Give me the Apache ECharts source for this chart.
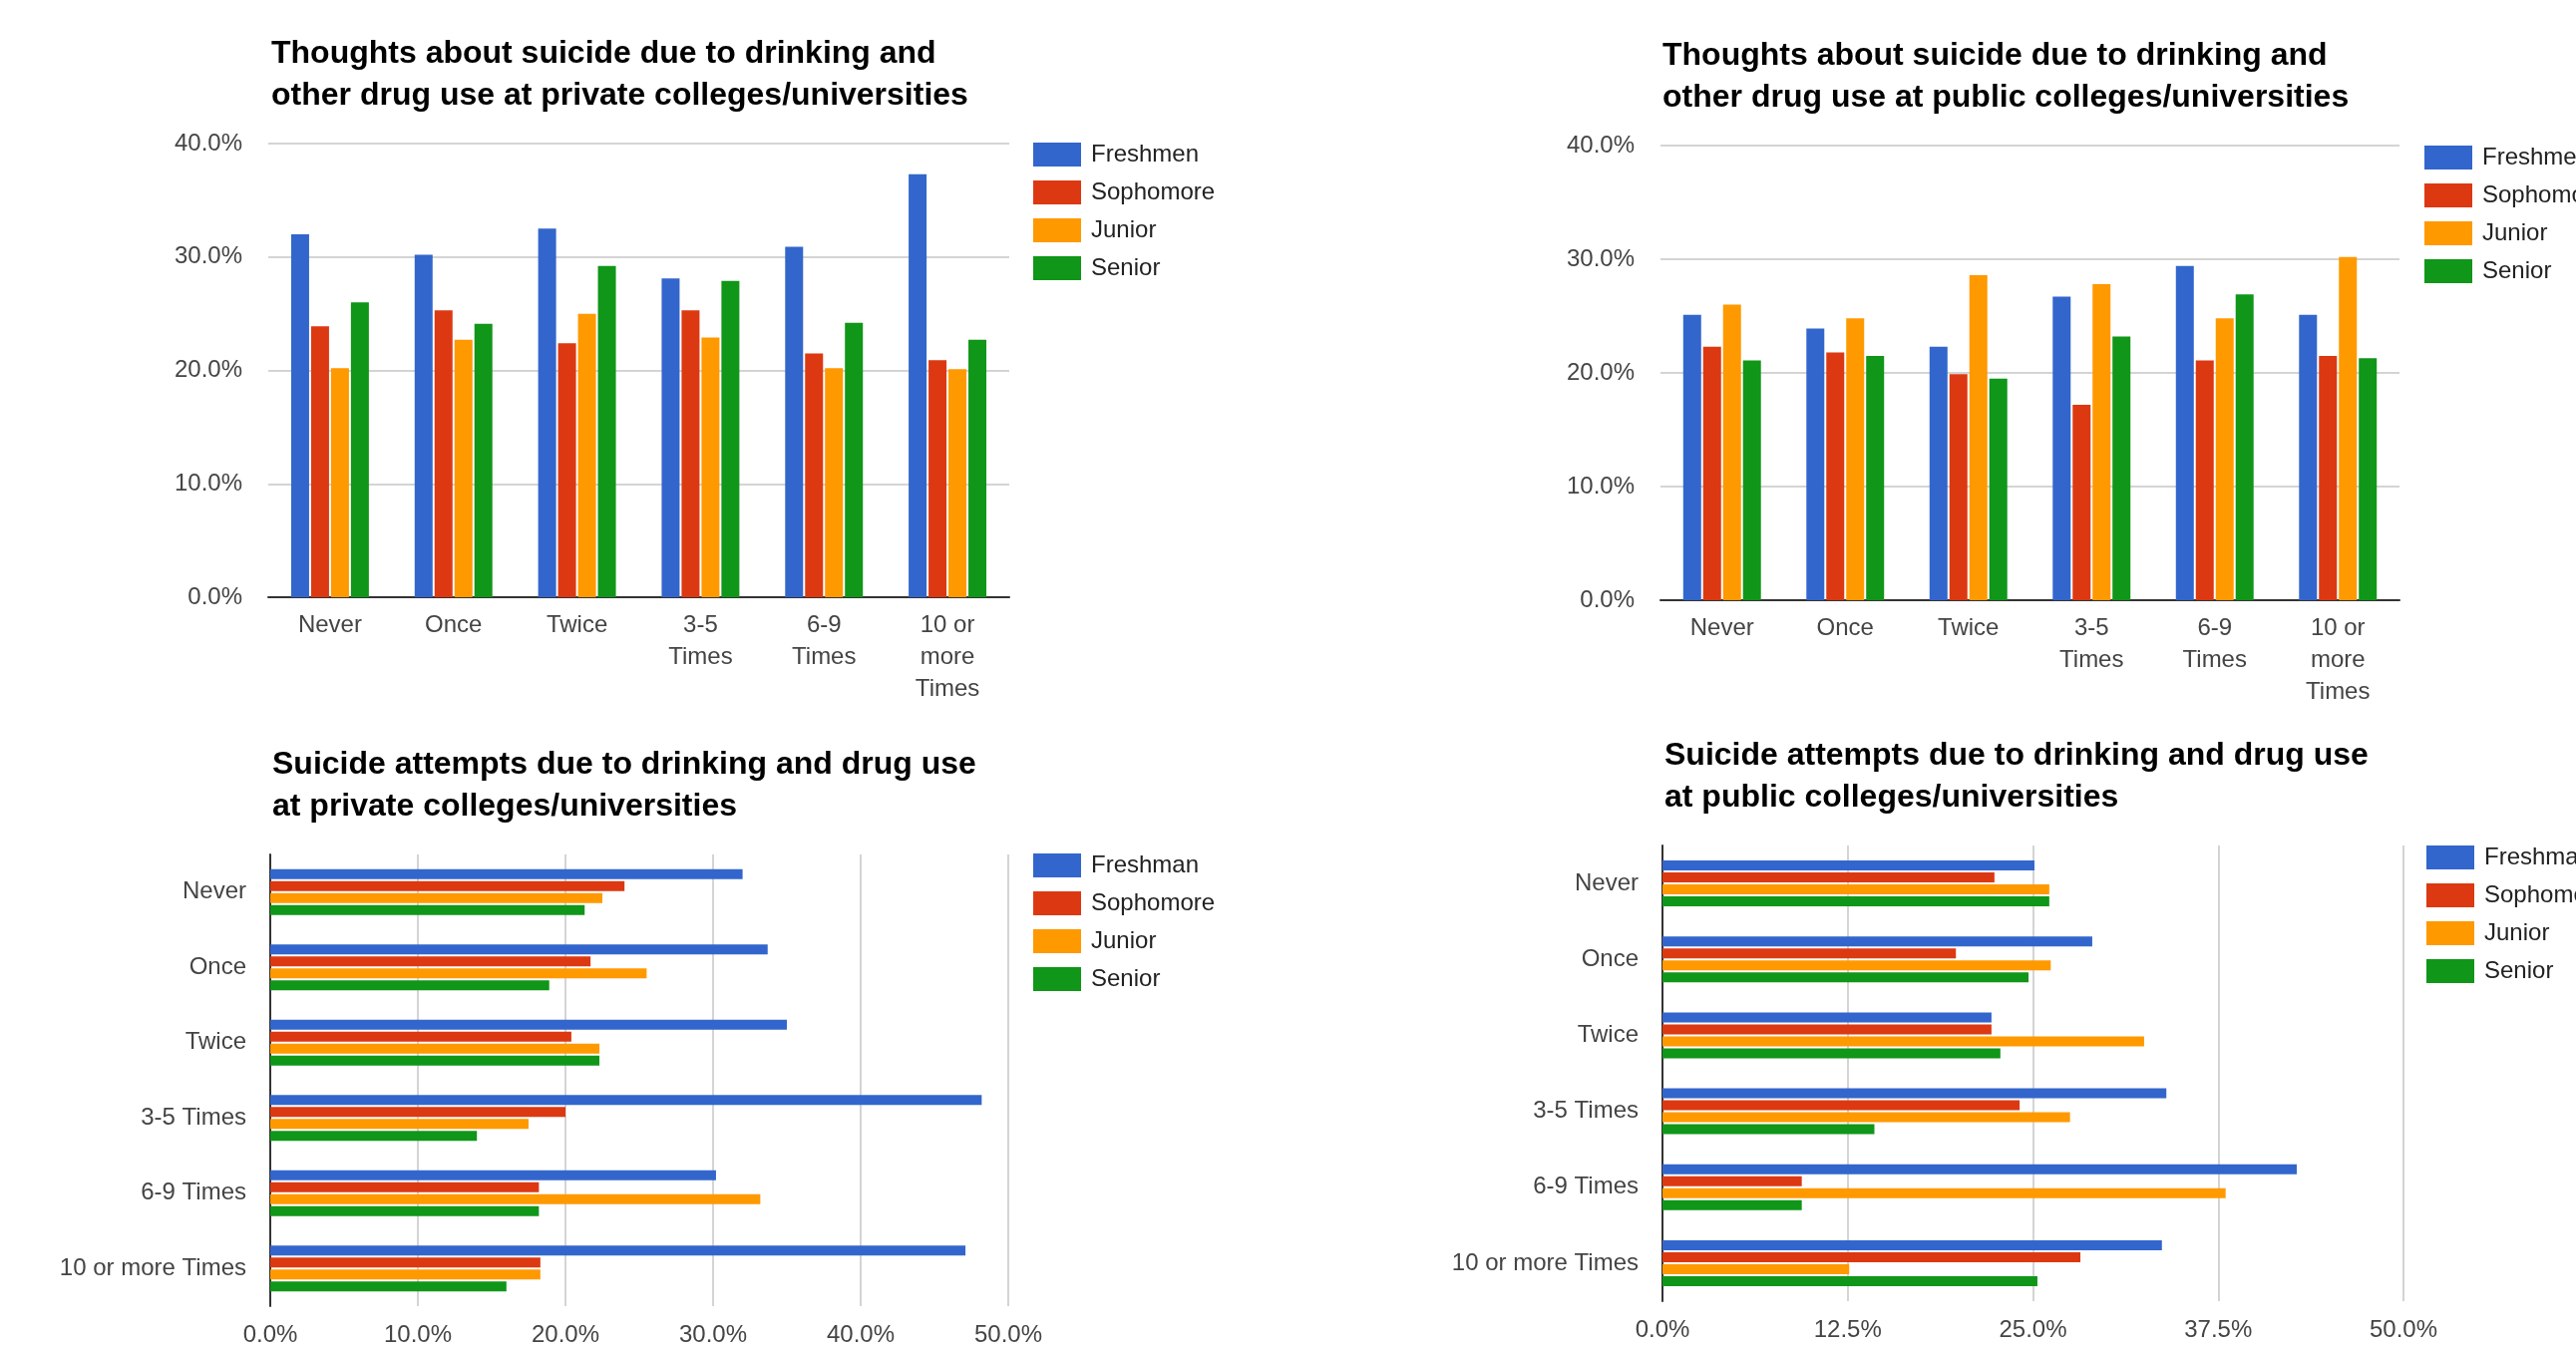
<!DOCTYPE html>
<html>
<head>
<meta charset="utf-8">
<script src="https://cdn.jsdelivr.net/npm/echarts@6/dist/echarts.min.js"></script>
<style>
html,body{margin:0;padding:0;background:#fff;}
#chart{width:2583px;height:1351px;}
</style>
</head>
<body>
<div id="chart"></div>
<script>
// ---- data ----
var categoriesTop = ['Never', 'Once', 'Twice', '3-5\nTimes', '6-9\nTimes', '10 or\nmore\nTimes'];
var categoriesBottom = ['Never', 'Once', 'Twice', '3-5 Times', '6-9 Times', '10 or more Times'];
var seriesNamesTop = ['Freshmen', 'Sophomore', 'Junior', 'Senior'];
var seriesNamesBottom = ['Freshman', 'Sophomore', 'Junior', 'Senior'];

var thoughtsPrivateFreshmen  = [32.0, 30.2, 32.5, 28.1, 30.9, 37.3];
var thoughtsPrivateSophomore = [23.9, 25.3, 22.4, 25.3, 21.5, 20.9];
var thoughtsPrivateJunior    = [20.2, 22.7, 25.0, 22.9, 20.2, 20.1];
var thoughtsPrivateSenior    = [26.0, 24.1, 29.2, 27.9, 24.2, 22.7];

var thoughtsPublicFreshmen  = [25.1, 23.9, 22.3, 26.7, 29.4, 25.1];
var thoughtsPublicSophomore = [22.3, 21.8, 19.9, 17.2, 21.1, 21.5];
var thoughtsPublicJunior    = [26.0, 24.8, 28.6, 27.8, 24.8, 30.2];
var thoughtsPublicSenior    = [21.1, 21.5, 19.5, 23.2, 26.9, 21.3];

var attemptsPrivateFreshman  = [32.0, 33.7, 35.0, 48.2, 30.2, 47.1];
var attemptsPrivateSophomore = [24.0, 21.7, 20.4, 20.0, 18.2, 18.3];
var attemptsPrivateJunior    = [22.5, 25.5, 22.3, 17.5, 33.2, 18.3];
var attemptsPrivateSenior    = [21.3, 18.9, 22.3, 14.0, 18.2, 16.0];

var attemptsPublicFreshman  = [25.1, 29.0, 22.2, 34.0, 42.8, 33.7];
var attemptsPublicSophomore = [22.4, 19.8, 22.2, 24.1, 9.4, 28.2];
var attemptsPublicJunior    = [26.1, 26.2, 32.5, 27.5, 38.0, 12.6];
var attemptsPublicSenior    = [26.1, 24.7, 22.8, 14.3, 9.4, 25.3];

var titles = [
  'Thoughts about suicide due to drinking and\nother drug use at private colleges/universities',
  'Thoughts about suicide due to drinking and\nother drug use at public colleges/universities',
  'Suicide attempts due to drinking and drug use\nat private colleges/universities',
  'Suicide attempts due to drinking and drug use\nat public colleges/universities'
];

// ---- styling ----
var colors = ['#3366cc', '#dc3912', '#ff9900', '#109618'];
var FONT = '"Liberation Sans", Arial, sans-serif';
var pct = function (v) { return v.toFixed(1) + '%'; };

var chart = echarts.init(document.getElementById('chart'), null, {renderer: 'canvas'});

var gridLine = {show: true, lineStyle: {color: '#d4d4d4', width: 2}};
var baseLine = {show: true, lineStyle: {color: '#333', width: 2}};
var labelStyle = {fontFamily: FONT, fontSize: 24, color: '#444'};

function titleCfg(text, left, top) {
  return {text: text, left: left, top: top, padding: 0,
    textStyle: {fontFamily: FONT, fontSize: 32, fontWeight: 'bold', color: '#000', lineHeight: 42}};
}
function legendCfg(names, left, top) {
  return {data: names, orient: 'vertical', left: left, top: top, padding: 0,
    itemWidth: 48, itemHeight: 24, itemGap: 14, icon: 'rect', selectedMode: false,
    textStyle: {fontFamily: FONT, fontSize: 24, color: '#222', padding: [0, 0, 0, 5]}};
}

var grids = [
  {left: 269, top: 144, width: 743, height: 455},
  {left: 1665, top: 146, width: 741, height: 456},
  {left: 271, top: 857, width: 740, height: 457},
  {left: 1667, top: 848, width: 743, height: 457}
];

var xAxes = [
  {gridIndex: 0, type: 'category', data: categoriesTop, axisLine: baseLine, axisTick: {show: false},
    axisLabel: Object.assign({margin: 12, lineHeight: 32, interval: 0}, labelStyle)},
  {gridIndex: 1, type: 'category', data: categoriesTop, axisLine: baseLine, axisTick: {show: false},
    axisLabel: Object.assign({margin: 12, lineHeight: 32, interval: 0}, labelStyle)},
  {gridIndex: 2, type: 'value', min: 0, max: 50, interval: 10, axisLine: {show: false}, axisTick: {show: false},
    splitLine: gridLine, axisLabel: Object.assign({margin: 17, formatter: pct}, labelStyle)},
  {gridIndex: 3, type: 'value', min: 0, max: 50, interval: 12.5, axisLine: {show: false}, axisTick: {show: false},
    splitLine: gridLine, axisLabel: Object.assign({margin: 17, formatter: pct}, labelStyle)}
];

var yAxes = [
  {gridIndex: 0, type: 'value', min: 0, max: 40, interval: 10, axisLine: {show: false}, axisTick: {show: false},
    splitLine: gridLine, axisLabel: Object.assign({margin: 26, formatter: pct}, labelStyle)},
  {gridIndex: 1, type: 'value', min: 0, max: 40, interval: 10, axisLine: {show: false}, axisTick: {show: false},
    splitLine: gridLine, axisLabel: Object.assign({margin: 26, formatter: pct}, labelStyle)},
  {gridIndex: 2, type: 'category', inverse: true, data: categoriesBottom, axisLine: baseLine, axisTick: {show: false},
    axisLabel: Object.assign({margin: 24, interval: 0}, labelStyle)},
  {gridIndex: 3, type: 'category', inverse: true, data: categoriesBottom, axisLine: baseLine, axisTick: {show: false},
    axisLabel: Object.assign({margin: 24, interval: 0}, labelStyle)}
];

function barSeries(name, data, idx, color, horizontal) {
  return {
    type: 'bar', name: name, data: data,
    xAxisIndex: idx, yAxisIndex: idx,
    barWidth: horizontal ? 10 : 18,
    barGap: horizontal ? '20%' : '11%',
    itemStyle: {color: color},
    emphasis: {disabled: true}
  };
}

var series = [];
var setTL = [thoughtsPrivateFreshmen, thoughtsPrivateSophomore, thoughtsPrivateJunior, thoughtsPrivateSenior];
var setTR = [thoughtsPublicFreshmen, thoughtsPublicSophomore, thoughtsPublicJunior, thoughtsPublicSenior];
var setBL = [attemptsPrivateFreshman, attemptsPrivateSophomore, attemptsPrivateJunior, attemptsPrivateSenior];
var setBR = [attemptsPublicFreshman, attemptsPublicSophomore, attemptsPublicJunior, attemptsPublicSenior];
for (var i = 0; i < 4; i++) series.push(barSeries(seriesNamesTop[i], setTL[i], 0, colors[i], false));
for (var i = 0; i < 4; i++) series.push(barSeries(seriesNamesTop[i], setTR[i], 1, colors[i], false));
for (var i = 0; i < 4; i++) series.push(barSeries(seriesNamesBottom[i], setBL[i], 2, colors[i], true));
for (var i = 0; i < 4; i++) series.push(barSeries(seriesNamesBottom[i], setBR[i], 3, colors[i], true));

chart.setOption({
  animation: false,
  backgroundColor: '#fff',
  color: colors,
  title: [
    titleCfg(titles[0], 272, 33),
    titleCfg(titles[1], 1667, 35),
    titleCfg(titles[2], 273, 746),
    titleCfg(titles[3], 1669, 737)
  ],
  legend: [
    legendCfg(seriesNamesTop, 1036, 143),
    legendCfg(seriesNamesTop, 2431, 146),
    legendCfg(seriesNamesBottom, 1036, 856),
    legendCfg(seriesNamesBottom, 2433, 848)
  ],
  grid: grids,
  xAxis: xAxes,
  yAxis: yAxes,
  series: series
});
</script>
</body>
</html>
